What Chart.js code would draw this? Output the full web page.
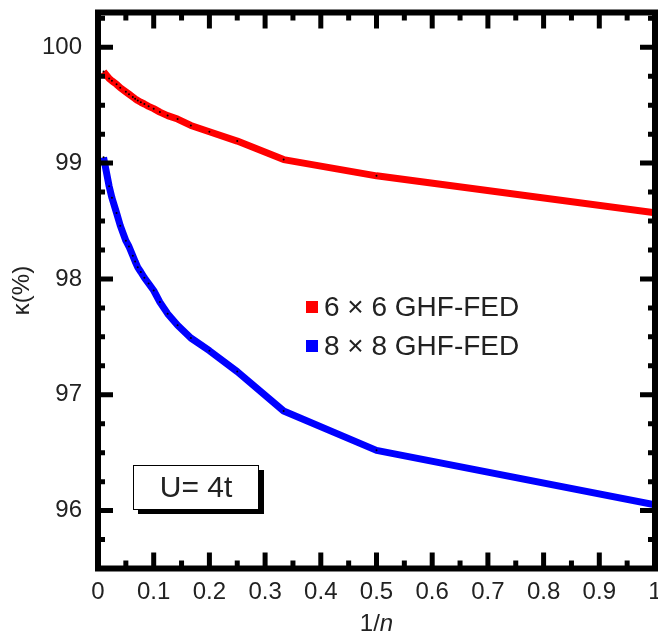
<!DOCTYPE html>
<html>
<head>
<meta charset="utf-8">
<title>kappa vs 1/n</title>
<script src="https://cdn.jsdelivr.net/npm/chart.js@4/dist/chart.umd.min.js"></script>
<style>
  html, body { margin: 0; padding: 0; background: #fff; }
  #wrap { width: 658px; height: 634px; }
</style>
</head>
<body>
<div id="wrap"><canvas id="kappaChart" width="658" height="634"></canvas></div>
<script>
// 1/n values (n = 100 ... 1)
const invN = [0.01, 0.02, 0.025, 0.0333, 0.04, 0.05, 0.0556, 0.0625, 0.0667, 0.0714, 0.0769,
  0.0833, 0.0909, 0.1, 0.1111, 0.125, 0.1429, 0.1667, 0.2, 0.25, 0.3333, 0.5, 1];

// kappa (%) for the two lattices
const kappa6x6 = [99.79, 99.73, 99.71, 99.68, 99.65, 99.615, 99.595, 99.57, 99.555, 99.54, 99.525,
  99.51, 99.49, 99.47, 99.44, 99.41, 99.38, 99.325, 99.27, 99.19, 99.03, 98.89, 98.57];
const kappa8x8 = [99.05, 98.80, 98.70, 98.57, 98.46, 98.33, 98.28, 98.20, 98.15, 98.10, 98.06,
  98.01, 97.96, 97.90, 97.80, 97.70, 97.60, 97.49, 97.38, 97.20, 96.86, 96.52, 96.05];

const seriesLabels = ["6 \u00d7 6 GHF-FED", "8 \u00d7 8 GHF-FED"];
const xTicks = [0, 0.1, 0.2, 0.3, 0.4, 0.5, 0.6, 0.7, 0.8, 0.9, 1];
const xMinorTicks = [0.05, 0.15, 0.25, 0.35, 0.45, 0.55, 0.65, 0.75, 0.85, 0.95];
const yTicks = [96, 97, 98, 99, 100];
const yMinorTicks = [95.75, 96.25, 96.5, 96.75, 97.25, 97.5, 97.75, 98.25, 98.5, 98.75, 99.25, 99.5, 99.75, 100.25];
const insetLabel = "U= 4t";

(() => {
  "use strict";

  const FONT = "'Liberation Sans', Arial, Helvetica, sans-serif";
  const TEXT = "#222";

  const toXY = (ys) => invN.map((x, i) => ({ x, y: ys[i] }));

  // Chart.js pads the area for edge labels; the reference frame goes right to the edges
  const noPad = (s) => {
    s.paddingTop = 0; s.paddingBottom = 0;
    s.paddingLeft = 0; s.paddingRight = 0;
  };

  // frame with inward ticks on all four sides, legend, inset box, axis titles
  const framePlugin = {
    id: "frame",
    afterDraw(chart) {
      const { ctx, chartArea: a, scales } = chart;
      const sx = scales.x, sy = scales.y;
      ctx.save();
      ctx.strokeStyle = "#000";
      ctx.lineWidth = 6;
      ctx.strokeRect(a.left, a.top, a.right - a.left, a.bottom - a.top);

      ctx.lineWidth = 5;
      ctx.lineCap = "butt";
      const xt = (v, len) => {
        const p = sx.getPixelForValue(v);
        ctx.beginPath();
        ctx.moveTo(p, a.bottom); ctx.lineTo(p, a.bottom - len);
        ctx.moveTo(p, a.top); ctx.lineTo(p, a.top + len);
        ctx.stroke();
      };
      const yt = (v, len) => {
        const p = sy.getPixelForValue(v);
        ctx.beginPath();
        ctx.moveTo(a.left, p); ctx.lineTo(a.left + len, p);
        ctx.moveTo(a.right, p); ctx.lineTo(a.right - len, p);
        ctx.stroke();
      };
      xTicks.forEach((v) => xt(v, 16));
      xMinorTicks.forEach((v) => xt(v, 8));
      yTicks.forEach((v) => yt(v, 15));
      yMinorTicks.forEach((v) => yt(v, 7));

      // legend
      const colors = ["#ff0000", "#0000ff"];
      const rows = [307, 346];
      ctx.font = "28px " + FONT;
      ctx.textBaseline = "middle";
      ctx.textAlign = "left";
      rows.forEach((y, i) => {
        ctx.fillStyle = colors[i];
        ctx.fillRect(306, y - 6, 12, 12);
        ctx.fillStyle = TEXT;
        ctx.fillText(seriesLabels[i], 324, y + 1);
      });

      // inset box with drop shadow
      ctx.fillStyle = "#000";
      ctx.fillRect(138, 509, 126, 5);
      ctx.fillRect(259, 470, 5, 44);
      ctx.fillStyle = "#fff";
      ctx.fillRect(133.5, 465.5, 125, 44);
      ctx.lineWidth = 1;
      ctx.strokeStyle = "#000";
      ctx.strokeRect(133.5, 465.5, 125, 44);
      ctx.fillStyle = TEXT;
      ctx.font = "30px " + FONT;
      ctx.textAlign = "center";
      ctx.fillText(insetLabel, 196, 489);

      // x title: 1/n with italic n
      ctx.font = "24px " + FONT;
      ctx.textAlign = "left";
      const w1 = ctx.measureText("1/").width;
      ctx.font = "italic 24px " + FONT;
      const w2 = ctx.measureText("n").width;
      const x0 = (a.left + a.right) / 2 - (w1 + w2) / 2;
      ctx.font = "24px " + FONT;
      ctx.fillText("1/", x0, 624);
      ctx.font = "italic 24px " + FONT;
      ctx.fillText("n", x0 + w1, 624);

      // y title
      ctx.font = "24px " + FONT;
      ctx.translate(22, (a.top + a.bottom) / 2);
      ctx.rotate(-Math.PI / 2);
      ctx.textAlign = "center";
      ctx.fillText("\u03ba(%)", 0, 0);
      ctx.restore();
    },
  };

  const lineStyle = (color) => ({
    borderColor: color,
    backgroundColor: color,
    borderWidth: 7,
    borderJoinStyle: "round",
    tension: 0,
    pointRadius: 1,
    pointBackgroundColor: "#000",
    pointBorderWidth: 0,
    pointHoverRadius: 0,
  });

  new Chart(document.getElementById("kappaChart"), {
    type: "line",
    data: {
      datasets: [
        { label: seriesLabels[0], data: toXY(kappa6x6), ...lineStyle("#ff0000") },
        { label: seriesLabels[1], data: toXY(kappa8x8), ...lineStyle("#0000ff") },
      ],
    },
    options: {
      responsive: false,
      animation: false,
      devicePixelRatio: 1,
      layout: { padding: { top: 12.5, right: 3, left: 0, bottom: 0 } },
      plugins: { legend: { display: false }, tooltip: { enabled: false } },
      scales: {
        x: {
          type: "linear",
          min: 0,
          max: 1,
          grid: { display: false, drawTicks: false },
          border: { display: false },
          afterBuildTicks: (s) => { s.ticks = xTicks.map((value) => ({ value })); },
          afterFit: (s) => { s.height = 65.5; noPad(s); },
          ticks: {
            autoSkip: false,
            maxRotation: 0,
            padding: 9,
            color: TEXT,
            font: { family: FONT, size: 24 },
            callback: (v) => String(v),
          },
        },
        y: {
          type: "linear",
          min: 95.5,
          max: 100.3,
          grid: { display: false, drawTicks: false },
          border: { display: false },
          afterBuildTicks: (s) => { s.ticks = yTicks.map((value) => ({ value })); },
          afterFit: (s) => { s.width = 98; noPad(s); },
          ticks: {
            padding: 16,
            color: TEXT,
            font: { family: FONT, size: 24 },
            callback: (v) => String(v),
          },
        },
      },
    },
    plugins: [framePlugin],
  });
})();
</script>
</body>
</html>
